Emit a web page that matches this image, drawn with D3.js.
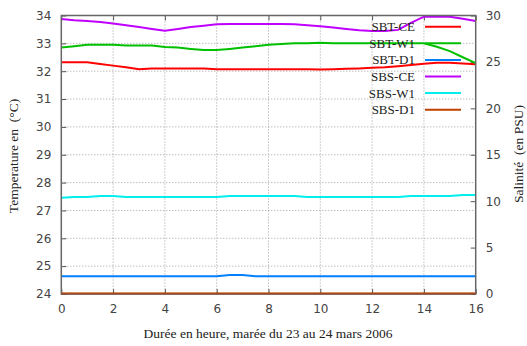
<!DOCTYPE html>
<html><head><meta charset="utf-8">
<script src="https://cdn.jsdelivr.net/npm/d3@7/dist/d3.min.js"></script>
<style>
body{margin:0;background:#fff;}
svg{display:block;}
</style></head>
<body>
<svg id="c" width="527" height="346"></svg>
<script>
const hours = [0,0.5,1,1.5,2,2.5,3,3.5,4,4.5,5,5.5,6,6.5,7,7.5,8,8.5,9,9.5,10,10.5,11,11.5,12,12.5,13,13.5,14,14.5,15,15.5,16];
// Temperatures (°C, left axis)
const SBT_CE = [32.32,32.32,32.32,32.26,32.2,32.14,32.07,32.1,32.1,32.1,32.1,32.1,32.07,32.07,32.07,32.07,32.07,32.07,32.07,32.07,32.06,32.07,32.09,32.1,32.12,32.14,32.18,32.22,32.27,32.3,32.3,32.28,32.25];
const SBT_W1 = [32.85,32.9,32.95,32.95,32.95,32.92,32.92,32.92,32.87,32.85,32.8,32.76,32.76,32.8,32.85,32.9,32.95,32.98,33.0,33.0,33.02,33.0,33.0,33.0,33.0,33.0,33.0,33.0,33.0,32.88,32.72,32.5,32.29];
const SBT_D1 = [24.64,24.64,24.64,24.64,24.64,24.64,24.64,24.64,24.64,24.64,24.64,24.64,24.64,24.68,24.68,24.64,24.64,24.64,24.64,24.64,24.64,24.64,24.64,24.64,24.64,24.64,24.64,24.64,24.64,24.64,24.64,24.64,24.64];
// Salinities (PSU, right axis)
const SBS_CE = [29.62,29.5,29.42,29.3,29.15,28.95,28.75,28.55,28.36,28.55,28.75,28.9,29.05,29.08,29.08,29.08,29.08,29.08,29.05,28.95,28.85,28.7,28.55,28.4,28.33,28.33,28.45,29.2,29.87,29.9,29.87,29.65,29.4];
const SBS_W1 = [10.37,10.44,10.44,10.55,10.55,10.44,10.44,10.44,10.44,10.44,10.44,10.44,10.44,10.55,10.55,10.55,10.55,10.55,10.55,10.44,10.44,10.44,10.44,10.44,10.44,10.44,10.44,10.55,10.55,10.55,10.55,10.66,10.66];
const SBS_D1 = [0.05,0.05,0.05,0.05,0.05,0.05,0.05,0.05,0.05,0.05,0.05,0.05,0.05,0.05,0.05,0.05,0.05,0.05,0.05,0.05,0.05,0.05,0.05,0.05,0.05,0.05,0.05,0.05,0.05,0.05,0.05,0.05,0.05];

const xTicks = [0,2,4,6,8,10,12,14,16];
const yTicks = [24,25,26,27,28,29,30,31,32,33,34];
const y2Ticks = [0,5,10,15,20,25,30];
const seriesNames = ["SBT-CE","SBT-W1","SBT-D1","SBS-CE","SBS-W1","SBS-D1"];
const seriesColors = ["#ff0000","#00c000","#0080ff","#c000ff","#00eeee","#c04000"];
const xLabel = "Durée en heure, marée du 23 au 24 mars 2006";
const yLabel = "Temperature en  (°C)";
const y2Label = "Salinité  (en PSU)";

const L=61.3, R=475.7, T=15.5, B=294;
const svg = d3.select("#c");
const x = d3.scaleLinear().domain([0,16]).range([L,R]);
const y = d3.scaleLinear().domain([24,34]).range([B,T]);
const y2 = d3.scaleLinear().domain([0,30]).range([B,T]);

const tickFont = "'DejaVu Sans', sans-serif";
const serif = "'Liberation Serif', 'DejaVu Serif', serif";

// grid
const g = svg.append("g");
g.selectAll("line.vg").data(xTicks.slice(1,-1)).enter().append("line")
  .attr("x1",d=>x(d)).attr("x2",d=>x(d)).attr("y1",T).attr("y2",B)
  .attr("stroke","#a0a0a0").attr("stroke-width",1).attr("stroke-dasharray","1,2");
g.selectAll("line.hg").data(yTicks.slice(1,-1)).enter().append("line")
  .attr("x1",L).attr("x2",R).attr("y1",d=>y(d)).attr("y2",d=>y(d))
  .attr("stroke","#a0a0a0").attr("stroke-width",1).attr("stroke-dasharray","1,2");

// axes
const axB = d3.axisBottom(x).tickValues(xTicks).tickSize(-5).tickPadding(10).tickFormat(d3.format("d"));
const axT = d3.axisTop(x).tickValues(xTicks).tickSize(-5).tickFormat("");
const axL = d3.axisLeft(y).tickValues(yTicks).tickSize(-5).tickPadding(10).tickFormat(d3.format("d"));
const axR = d3.axisRight(y2).tickValues(y2Ticks).tickSize(-5).tickPadding(10).tickFormat(d3.format("d"));
function style(sel){
  sel.select(".domain").remove();
  sel.selectAll(".tick line").attr("stroke","#555").attr("stroke-width",1);
  sel.selectAll(".tick text").attr("fill","#444").style("font-family",tickFont).style("font-size","12px");
}
svg.append("g").attr("transform",`translate(0,${B})`).call(axB).call(style);
svg.append("g").attr("transform",`translate(0,${T})`).call(axT).call(style);
svg.append("g").attr("transform",`translate(${L},0)`).call(axL).call(style);
svg.append("g").attr("transform",`translate(${R},0)`).call(axR).call(style);

// data lines
const seriesData = [
  {v:SBT_CE, s:y},{v:SBT_W1, s:y},{v:SBT_D1, s:y},
  {v:SBS_CE, s:y2},{v:SBS_W1, s:y2},{v:SBS_D1, s:y2}
];
const plot = svg.append("g");
seriesData.forEach((sd,i)=>{
  const line = d3.line().x((d,j)=>x(hours[j])).y(d=>sd.s(d));
  plot.append("path").datum(sd.v).attr("d",line).attr("fill","none")
    .attr("stroke",seriesColors[i]).attr("stroke-width",2);
});

// border
svg.append("rect").attr("x",L).attr("y",T).attr("width",R-L).attr("height",B-T)
  .attr("fill","none").attr("stroke","#666").attr("stroke-width",1.5);
svg.append("line").attr("x1",L).attr("x2",R).attr("y1",y2(SBS_D1[0])).attr("y2",y2(SBS_D1[0]))
  .attr("stroke",seriesColors[5]).attr("stroke-width",1.5).attr("stroke-opacity",0.6);

// legend
const leg = svg.append("g");
seriesNames.forEach((n,i)=>{
  const yy = 26.7 + i*16.6;
  leg.append("text").attr("x",415).attr("y",yy+4.5).attr("text-anchor","end")
    .style("font-family",serif).style("font-size","13px").attr("fill","#222").text(n);
  leg.append("line").attr("x1",425).attr("x2",461).attr("y1",yy).attr("y2",yy)
    .attr("stroke",seriesColors[i]).attr("stroke-width",2);
});

// labels
svg.append("text").attr("x",268).attr("y",338).attr("text-anchor","middle")
  .style("font-family",serif).style("font-size","13.5px").attr("fill","#222").text(xLabel);
svg.append("text").attr("transform","translate(18,156) rotate(-90)").attr("text-anchor","middle")
  .style("font-family",serif).style("font-size","13.5px").style("white-space","pre").attr("fill","#222").text(yLabel);
svg.append("text").attr("transform","translate(523,154) rotate(-90)").attr("text-anchor","middle")
  .style("font-family",serif).style("font-size","13.5px").style("white-space","pre").attr("fill","#222").text(y2Label);
</script>
</body></html>
